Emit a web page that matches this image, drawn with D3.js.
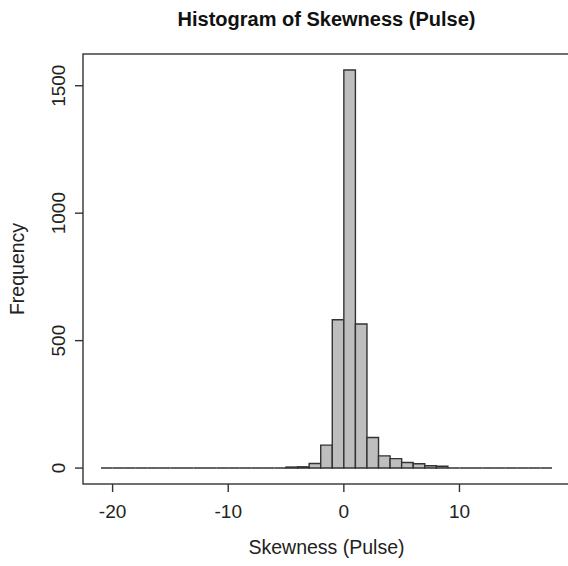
<!DOCTYPE html>
<html>
<head>
<meta charset="utf-8">
<script src="https://cdn.jsdelivr.net/npm/d3@7"></script>
<style>
  html, body { margin: 0; padding: 0; background: #fff; }
  svg { display: block; font-family: 'Liberation Sans', Arial, sans-serif; }
</style>
</head>
<body>
<div id="chart"></div>
<script>
// Histogram bins (width 1) and counts
const binStarts = d3.range(-21, 18);   // -21 .. 17, each bin [x, x+1)
const binCounts = [
  0, 0, 0, 0, 0, 0, 0, 0, 0, 0,        // -21 .. -12
  0, 0, 0, 0, 0, 0,                    // -11 .. -6
  4, 5, 18, 90, 582, 1562, 565, 120,   // -5 .. 2
  48, 37, 22, 17, 9, 7,                // 3 .. 8
  0, 0, 0, 0, 0, 0, 0, 0, 0            // 9 .. 17
];
const xTicks = [-20, -10, 0, 10];
const yTicks = [0, 500, 1000, 1500];

const W = 568, H = 566;
const m = { top: 54, left: 83, bottom: 484, right: 570 };

const svg = d3.select('#chart').append('svg')
  .attr('width', W).attr('height', H);

const bins = binStarts.map((x0, i) => ({ x0, x1: x0 + 1, n: binCounts[i] }));

// R-style 4% padding on both axes
const xMin = d3.min(bins, d => d.x0), xMax = d3.max(bins, d => d.x1);
const xPad = (xMax - xMin) * 0.04;
const x = d3.scaleLinear().domain([xMin - xPad, xMax + xPad]).range([m.left, m.right]);
const yMaxV = d3.max(binCounts);
const y = d3.scaleLinear().domain([-yMaxV * 0.04, yMaxV * 1.04]).range([m.bottom, m.top]);

const ink = '#333';

// Bars (paths so empty bins still show as a line on the baseline)
svg.append('g').selectAll('path')
  .data(bins)
  .join('path')
  .attr('d', d => `M${x(d.x0)},${y(0)}V${y(d.n)}H${x(d.x1)}V${y(0)}Z`)
  .attr('fill', '#bebebe')
  .attr('stroke', ink)
  .attr('stroke-width', 1.4);

// Frame
svg.append('rect')
  .attr('x', m.left).attr('y', m.top)
  .attr('width', m.right - m.left).attr('height', m.bottom - m.top)
  .attr('fill', 'none').attr('stroke', ink).attr('stroke-width', 1.4);

// X axis
const xAxis = svg.append('g').attr('transform', `translate(0,${m.bottom})`);
xAxis.selectAll('line').data(xTicks).join('line')
  .attr('x1', d => x(d)).attr('x2', d => x(d))
  .attr('y1', 0).attr('y2', 8)
  .attr('stroke', ink).attr('stroke-width', 1.4);
xAxis.selectAll('text').data(xTicks).join('text')
  .attr('x', d => x(d)).attr('y', 34)
  .attr('text-anchor', 'middle')
  .attr('fill', '#222')
  .style('font-size', '19px')
  .text(d => d);

// Y axis
const yAxis = svg.append('g').attr('transform', `translate(${m.left},0)`);
yAxis.selectAll('line').data(yTicks).join('line')
  .attr('x1', 0).attr('x2', -8)
  .attr('y1', d => y(d)).attr('y2', d => y(d))
  .attr('stroke', ink).attr('stroke-width', 1.4);
yAxis.selectAll('text').data(yTicks).join('text')
  .attr('transform', d => `translate(-18,${y(d)}) rotate(-90)`)
  .attr('text-anchor', 'middle')
  .attr('fill', '#222')
  .style('font-size', '19px')
  .text(d => d);

// Titles
const plotMidX = (m.left + m.right) / 2;
svg.append('text')
  .attr('x', plotMidX).attr('y', 26)
  .attr('text-anchor', 'middle')
  .attr('fill', '#111')
  .style('font-size', '20px')
  .style('font-weight', 'bold')
  .text('Histogram of Skewness (Pulse)');

svg.append('text')
  .attr('x', plotMidX).attr('y', 554)
  .attr('text-anchor', 'middle')
  .attr('fill', '#222')
  .style('font-size', '19.5px')
  .text('Skewness (Pulse)');

svg.append('text')
  .attr('transform', `translate(24,${(m.top + m.bottom) / 2}) rotate(-90)`)
  .attr('text-anchor', 'middle')
  .attr('fill', '#222')
  .style('font-size', '19.5px')
  .text('Frequency');
</script>
</body>
</html>
